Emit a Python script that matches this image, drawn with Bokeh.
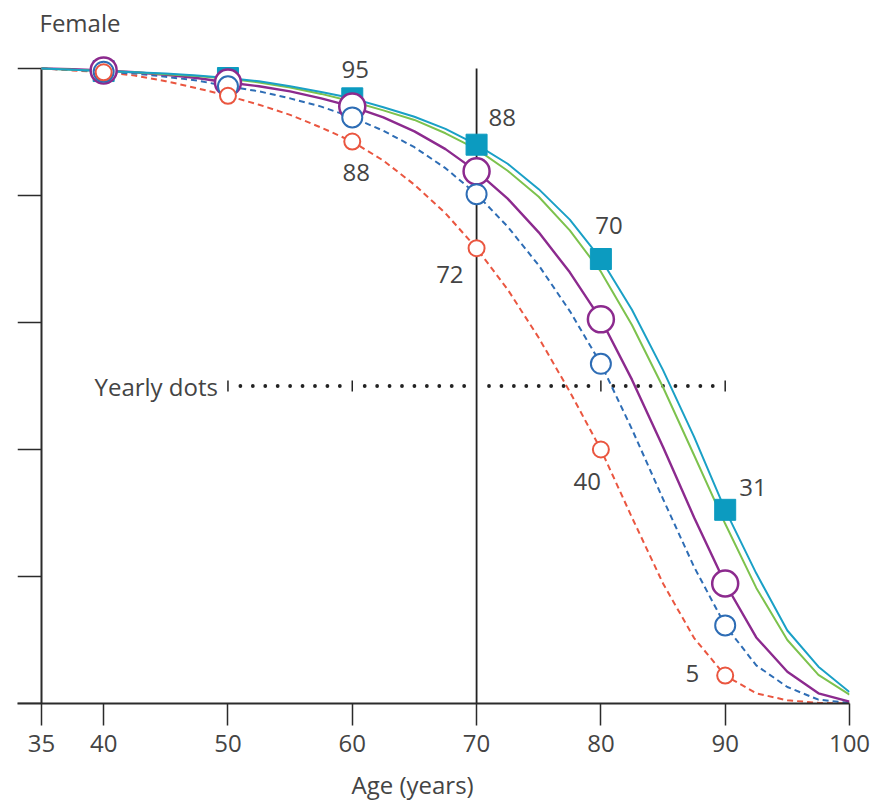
import math
from bokeh.plotting import figure
from bokeh.models import Title, FixedTicker, Range1d
from bokeh.embed import file_html
from bokeh.resources import INLINE
from bokeh.core.properties import value

# ---------------- data ----------------
ages = [35, 37.5, 40, 42.5, 45, 47.5, 50, 52.5, 55, 57.5, 60, 62.5, 65, 67.5,
        70, 72.5, 75, 77.5, 80, 82.5, 85, 87.5, 90, 92.5, 95, 97.5, 100]

cyan_curve = [100, 99.8, 99.6, 99.4, 99.2, 98.9, 98.5, 98.0, 97.2, 96.3, 95.3, 93.9, 92.4, 90.5,
              88.0, 85.0, 81.0, 76.2, 70.0, 62.0, 52.5, 42.0, 30.5, 20.5, 11.5, 5.8, 1.8]
green_curve = [100, 99.8, 99.6, 99.4, 99.1, 98.8, 98.4, 97.8, 97.0, 96.0, 94.8, 93.4, 91.9, 89.8,
               87.3, 83.9, 79.8, 74.5, 68.0, 59.6, 49.8, 39.1, 28.3, 18.2, 10.0, 4.5, 1.4]
purple_curve = [100, 99.9, 99.7, 99.4, 99.0, 98.5, 97.8, 97.2, 96.4, 95.3, 94.0, 92.3, 90.1, 87.3,
                83.8, 79.5, 74.2, 67.9, 60.5, 51.0, 40.4, 29.3, 18.9, 10.4, 5.0, 1.6, 0.3]
blue_curve = [100, 99.8, 99.5, 99.2, 98.7, 98.1, 97.2, 96.4, 95.3, 94.0, 92.3, 90.2, 87.6, 84.3,
              80.2, 75.1, 69.0, 61.8, 53.5, 43.2, 32.2, 21.5, 12.3, 6.0, 2.6, 0.6, 0.1]
red_curve = [100, 99.7, 99.4, 98.9, 98.0, 96.9, 95.7, 94.3, 92.7, 90.7, 88.5, 85.5, 81.7, 77.2,
             71.7, 65.2, 57.6, 49.1, 40.0, 29.3, 18.9, 10.3, 4.4, 1.6, 0.5, 0.1, 0.0]

marker_ages = [40, 50, 60, 70, 80, 90]

cyan_label_ages = [60, 70, 80, 90]
cyan_labels = ["95", "88", "70", "31"]
red_label_ages = [60, 70, 80, 90]
red_labels = ["88", "72", "40", "5"]

x_ticks = [35, 40, 50, 60, 70, 80, 90, 100]
y_ticks = [0, 20, 40, 60, 80, 100]

panel_title = "Female"
x_title = "Age (years)"

reference_age = 70
yearly_level = 50
yearly_start, yearly_end = 50, 90
yearly_bar_ages = [50, 60, 80, 90]

# ---------------- styles / layout ----------------
CYAN = "#1AA0C6"
CYAN_SQ = "#0C9BC0"
GREEN = "#7DC24D"
PURPLE = "#8C2A8E"
BLUE = "#2E6DB5"
RED = "#EA5640"
TXT = "#444444"
AX = "#2b2b2b"
FONT = "Open Sans"
FS = "24px"

W, H = 872, 812
BORDER_L, BORDER_R, BORDER_T, BORDER_B = 17, 23, 45, 109
FRAME_W = W - BORDER_L - BORDER_R
FRAME_H = H - BORDER_T - BORDER_B
X_AXIS_START = x_ticks[0]
X_END = x_ticks[-1]
Y_TICK_PX = 24
px_per_year = FRAME_W / ((X_END - X_AXIS_START) + Y_TICK_PX * (X_END - X_AXIS_START) / (FRAME_W - Y_TICK_PX))
x_start = X_AXIS_START - Y_TICK_PX / px_per_year
px_per_pct = 635 / (y_ticks[-1] - y_ticks[0])
y_end = FRAME_H / px_per_pct


def at(curve, sel):
    return [curve[ages.index(a)] for a in sel]


p = figure(width=W, height=H,
           x_range=Range1d(x_start, X_END), y_range=Range1d(0, y_end),
           output_backend="svg", toolbar_location=None, y_axis_location=None,
           min_border_left=BORDER_L, min_border_right=BORDER_R,
           min_border_top=BORDER_T, min_border_bottom=BORDER_B)
p.outline_line_color = None
p.grid.visible = False

p.title.text = panel_title
p.title.text_font = FONT
p.title.text_font_size = FS
p.title.text_font_style = "normal"
p.title.text_color = TXT
p.title.align = "left"
p.title.offset = 22
p.title.standoff = 10
p.title.vertical_align = "top"

p.add_layout(Title(text=x_title, align="left", offset=334, standoff=23,
                   text_font=FONT, text_font_size=FS, text_font_style="normal",
                   text_color=TXT), "below")

# x axis
p.xaxis.ticker = FixedTicker(ticks=x_ticks)
p.xaxis.minor_tick_line_color = None
p.xaxis.major_tick_in = 0
p.xaxis.major_tick_out = 22
p.xaxis.major_tick_line_width = 1.5
p.xaxis.major_tick_line_color = AX
p.xaxis.axis_line_width = 2
p.xaxis.axis_line_color = AX
p.xaxis.major_label_text_font = FONT
p.xaxis.major_label_text_font_size = FS
p.xaxis.major_label_text_color = TXT
p.xaxis.major_label_standoff = 9

# y axis (no labels): line at x=35 with outward ticks
p.segment(x0=[X_AXIS_START], y0=[y_ticks[0]], x1=[X_AXIS_START], y1=[y_ticks[-1]],
          line_color=AX, line_width=2)
p.segment(x0=[x_start] * len(y_ticks), y0=y_ticks, x1=[X_AXIS_START] * len(y_ticks), y1=y_ticks,
          line_color=AX, line_width=1.5)

# reference line at 70
p.segment(x0=[reference_age], y0=[y_ticks[0]], x1=[reference_age], y1=[y_ticks[-1]],
          line_color="#222222", line_width=1.8)

# yearly dots
dot_ages = [a for a in range(yearly_start, yearly_end + 1) if a % 10 != 0]
p.scatter(dot_ages, [yearly_level] * len(dot_ages), marker="circle", size=3.8,
          fill_color="#222222", line_color=None)
p.scatter(yearly_bar_ages, [yearly_level] * len(yearly_bar_ages), marker="dash",
          angle=math.pi / 2, size=11, line_color="#222222", line_width=1.5)
p.text(x=[yearly_start], y=[yearly_level], text=["Yearly dots"],
       text_font=value(FONT), text_font_size=FS, text_color=TXT,
       text_align="right", text_baseline="middle", x_offset=-10)

# curves
p.line(ages, red_curve, line_color=RED, line_width=2, line_dash="6 4")
p.line(ages, blue_curve, line_color=BLUE, line_width=2, line_dash="6 4")
p.line(ages, purple_curve, line_color=PURPLE, line_width=2.4)
p.line(ages, green_curve, line_color=GREEN, line_width=2)
p.line(ages, cyan_curve, line_color=CYAN, line_width=2)

# markers
p.scatter(marker_ages, at(cyan_curve, marker_ages), marker="square", size=21,
          fill_color=CYAN_SQ, line_color=CYAN_SQ)
p.scatter(marker_ages, at(purple_curve, marker_ages), marker="circle", size=26,
          fill_color="white", line_color=PURPLE, line_width=2.5)
p.scatter(marker_ages, at(blue_curve, marker_ages), marker="circle", size=20,
          fill_color="white", line_color=BLUE, line_width=2)
p.scatter(marker_ages, at(red_curve, marker_ages), marker="circle", size=16,
          fill_color="white", line_color=RED, line_width=2)

# value labels
cyan_style = [("center", 3, -29), ("left", 12, -27), ("center", 8, -34), ("left", 14, -22)]
red_style = [("center", 4, 31), ("right", -13, 26), ("right", 0, 32), ("right", -26, -2)]
for ages_sel, labels, styles, curve in [(cyan_label_ages, cyan_labels, cyan_style, cyan_curve),
                                         (red_label_ages, red_labels, red_style, red_curve)]:
    ys = at(curve, ages_sel)
    for a, yv, t, (al, dx, dy) in zip(ages_sel, ys, labels, styles):
        p.text(x=[a], y=[yv], text=[t], text_font=value(FONT), text_font_size=FS,
               text_color=TXT, text_align=al, text_baseline="middle",
               x_offset=dx, y_offset=dy)

open("out.html", "w").write(file_html(p, INLINE))
